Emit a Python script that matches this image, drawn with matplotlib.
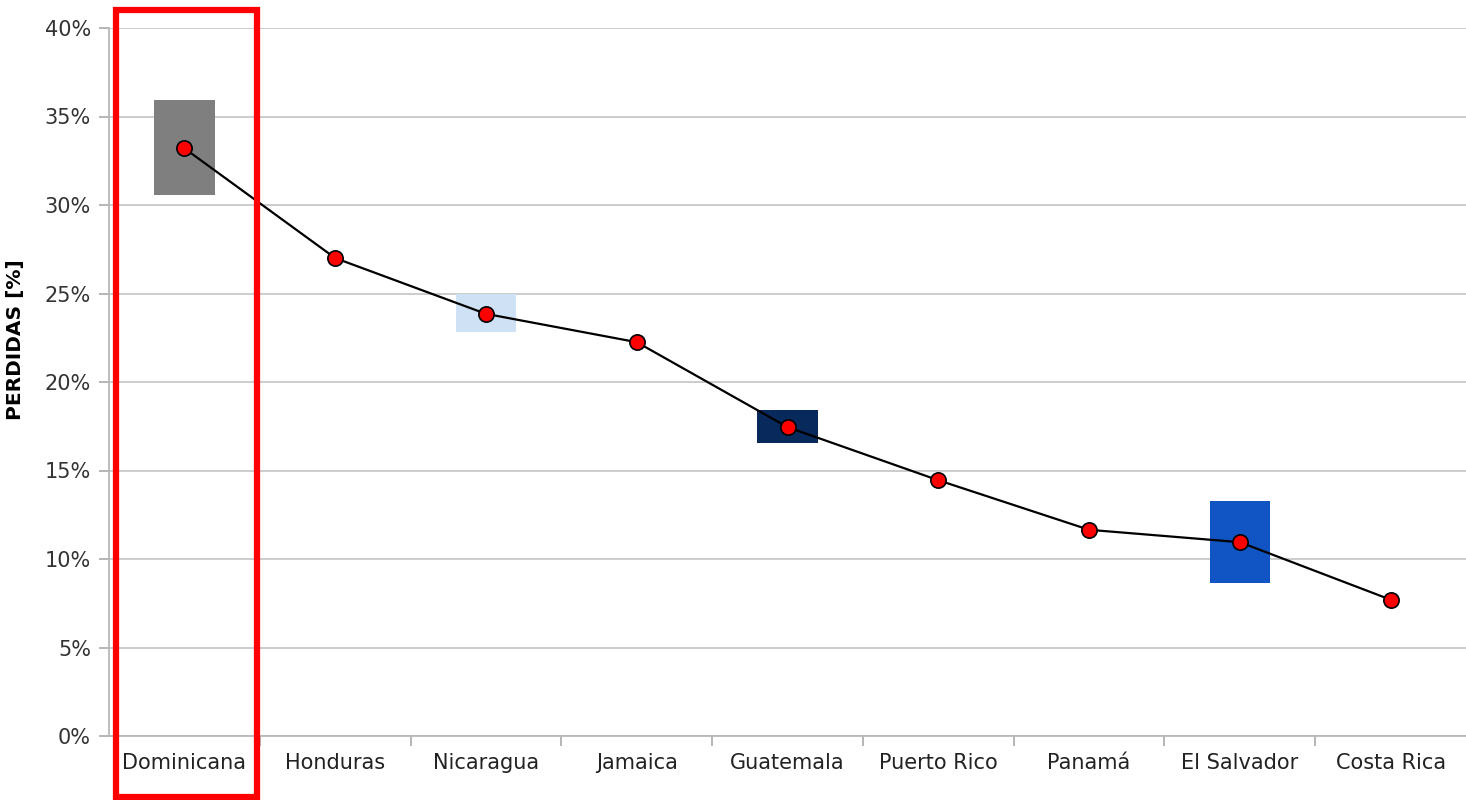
import numpy as np
import matplotlib.pyplot as plt
from matplotlib.patches import Rectangle
import matplotlib.transforms as mtransforms

paises = ['Dominicana', 'Honduras', 'Nicaragua', 'Jamaica', 'Guatemala',
          'Puerto Rico', 'Panamá', 'El Salvador', 'Costa Rica']
perdidas = [33.2, 27.0, 23.85, 22.25, 17.45, 14.45, 11.65, 10.95, 7.7]

# rangos sombreados (pais, min, max, color)
rango_pais = ['Dominicana', 'Nicaragua', 'Guatemala', 'El Salvador']
rango_min = [30.55, 22.8, 16.55, 8.65]
rango_max = [35.95, 24.95, 18.4, 13.3]
rango_color = ['#7f7f7f', '#cfe1f5', '#07295c', '#1155c4']

fig = plt.figure(figsize=(14.66, 8), dpi=100)
ax = fig.add_axes([0.0744, 0.08, 0.9256, 0.885])

x = np.arange(len(paises))
pos = [paises.index(p) for p in rango_pais]
alto = [b - a for a, b in zip(rango_min, rango_max)]
ax.bar(pos, alto, bottom=rango_min, width=0.4, color=rango_color, zorder=2)

ax.plot(x, perdidas, color='black', lw=1.6, marker='o', markersize=11,
        markerfacecolor='#ff0000', markeredgecolor='black', markeredgewidth=1.2, zorder=3)

ax.set_xlim(-0.5, len(paises) - 0.5)
ax.set_ylim(0, 40)
ax.set_yticks(range(0, 41, 5))
ax.set_yticklabels([f'{v}%' for v in range(0, 41, 5)], fontsize=15, color='#333333')
ax.set_xticks(x)
ax.set_xticklabels(paises, fontsize=15, color='#222222')
ax.set_xticks(np.arange(0.5, len(paises) - 0.5, 1), minor=True)
ax.tick_params(axis='x', which='major', length=0, pad=12)
ax.tick_params(axis='x', which='minor', length=7, color='#b0b0b0', width=1.3, direction='out')
ax.tick_params(axis='y', length=7, color='#b0b0b0', width=1.3, pad=6)
ax.grid(axis='y', color='#c8c8c8', lw=1.3, zorder=0)
ax.set_axisbelow(True)
for s in ['top', 'right']:
    ax.spines[s].set_visible(False)
ax.spines['left'].set_color('#b8b8b8')
ax.spines['bottom'].set_color('#b8b8b8')
ax.spines['left'].set_linewidth(1.3)
ax.spines['bottom'].set_linewidth(1.3)
ax.set_ylabel('PERDIDAS [%]', fontsize=14.5, fontweight='bold', labelpad=8)
ax.yaxis.set_label_coords(-0.062, 0.56)

# recuadro rojo sobre Dominicana
trans = mtransforms.blended_transform_factory(ax.transData, ax.transAxes)
ax.add_patch(Rectangle((-0.455, -0.086), 0.935, 1.112, transform=trans,
                       fill=False, edgecolor='#ff0000', lw=4.5, clip_on=False, zorder=5))

fig.savefig('out.png', dpi=100)
